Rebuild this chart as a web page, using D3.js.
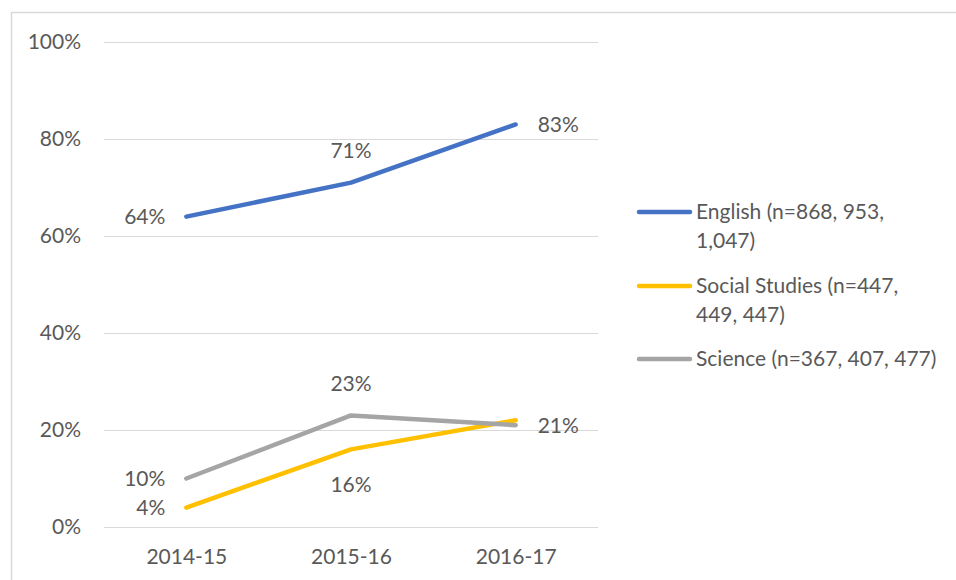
<!DOCTYPE html>
<html>
<head>
<meta charset="utf-8">
<script src="https://cdn.jsdelivr.net/npm/d3@7"></script>
<style>
  body { margin: 0; background: #fff; }
  svg text { font-family: Lato, "Open Sans", sans-serif; fill: #595959; }
</style>
</head>
<body>
<svg id="chart" width="956" height="580"></svg>
<script>
var years = ["2014-15", "2015-16", "2016-17"];
var yTicks = [0, 20, 40, 60, 80, 100];
var english = [64, 71, 83];
var socialStudies = [4, 16, 22];
var science = [10, 23, 21];
var seriesNames = ["English (n=868, 953, 1,047)", "Social Studies (n=447, 449, 447)", "Science (n=367, 407, 477)"];
var legendLines = [["English (n=868, 953,", "1,047)"], ["Social Studies (n=447,", "449, 447)"], ["Science (n=367, 407, 477)"]];
// where each data label goes: l = left, a = above, b = below, r = right, null = none
var englishPos = ["l", "a", "r"];
var socialPos = ["l", "b", null];
var sciencePos = ["l", "a", "r"];

var svg = d3.select("#chart");
var colors = ["#4472C4", "#FFC000", "#A5A5A5"];
var fs = 21;

var series = [
    { name: seriesNames[0], values: english, pos: englishPos, color: colors[0] },
    { name: seriesNames[1], values: socialStudies, pos: socialPos, color: colors[1] },
    { name: seriesNames[2], values: science, pos: sciencePos, color: colors[2] }
];

// chart border
svg.append("rect")
    .attr("x", 11.5).attr("y", 12.5)
    .attr("width", 960).attr("height", 600)
    .attr("fill", "none").attr("stroke", "#D9D9D9").attr("stroke-width", 1.5);

var plotLeft = 104, plotRight = 598, plotTop = 42, plotBottom = 527;

var x = d3.scalePoint().domain(years).range([plotLeft, plotRight]).padding(0.5);
var y = d3.scaleLinear().domain([0, 100]).range([plotBottom, plotTop]);

var yAxis = svg.append("g")
    .attr("transform", "translate(" + plotLeft + ",0)")
    .call(d3.axisLeft(y).tickValues(yTicks).tickFormat(function (d) { return d + "%"; })
        .tickSize(-(plotRight - plotLeft)).tickPadding(23));
yAxis.select(".domain").remove();
yAxis.selectAll(".tick line").attr("stroke", "#D9D9D9").attr("stroke-width", 1);
yAxis.selectAll(".tick text").attr("font-size", fs).style("fill", "#595959");

var xAxis = svg.append("g")
    .attr("transform", "translate(0," + plotBottom + ")")
    .call(d3.axisBottom(x).tickSize(0).tickPadding(22));
xAxis.select(".domain").remove();
xAxis.selectAll(".tick text").attr("font-size", fs).style("fill", "#595959");

var line = d3.line()
    .x(function (d, i) { return x(years[i]); })
    .y(function (d) { return y(d); });

series.forEach(function (s) {
    svg.append("path")
        .datum(s.values)
        .attr("fill", "none")
        .attr("stroke", s.color)
        .attr("stroke-width", 4.5)
        .attr("stroke-linejoin", "round")
        .attr("stroke-linecap", "round")
        .attr("d", line);
});

series.forEach(function (s) {
    s.values.forEach(function (v, i) {
        var p = s.pos[i];
        if (!p) return;
        var px = x(years[i]), py = y(v);
        var t = svg.append("text")
            .attr("font-size", fs)
            .attr("dy", "0.35em")
            .text(v + "%");
        if (p === "l") t.attr("x", px - 21).attr("y", py).attr("text-anchor", "end");
        if (p === "r") t.attr("x", px + 22).attr("y", py).attr("text-anchor", "start");
        if (p === "a") t.attr("x", px).attr("y", py - 32).attr("text-anchor", "middle");
        if (p === "b") t.attr("x", px).attr("y", py + 35).attr("text-anchor", "middle");
    });
});

// legend
var legendY = [212, 286, 359];
series.forEach(function (s, i) {
    var g = svg.append("g").attr("transform", "translate(0," + legendY[i] + ")");
    g.append("line")
        .attr("x1", 639).attr("x2", 690)
        .attr("y1", 0).attr("y2", 0)
        .attr("stroke", s.color).attr("stroke-width", 4.5)
        .attr("stroke-linecap", "round");
    legendLines[i].forEach(function (txt, j) {
        g.append("text")
            .attr("x", 696).attr("y", j * 29)
            .attr("dy", "0.35em")
            .attr("font-size", fs)
            .text(txt);
    });
});
</script>
</body>
</html>
